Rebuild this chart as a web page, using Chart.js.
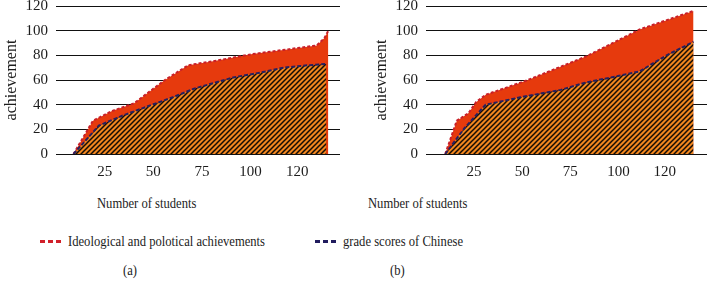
<!DOCTYPE html>
<html>
<head>
<meta charset="utf-8">
<script src="https://cdn.jsdelivr.net/npm/chart.js@4.4.1/dist/chart.umd.min.js"></script>
<style>
  html, body { margin: 0; padding: 0; background: #fff; }
  #wrap { position: relative; width: 707px; height: 283px; overflow: hidden;
          font-family: 'Liberation Serif', 'DejaVu Serif', serif; color: #1c1c1c; }
  .panel { position: absolute; top: 0; height: 190px; }
  #panelA { left: 0; width: 353px; }
  #panelB { left: 353px; width: 354px; }
  .txt { position: absolute; white-space: nowrap; font-size: 15px; line-height: 18px;
         transform: scaleX(0.84); transform-origin: 0 50%; }
  .key { position: absolute; height: 3px; width: 22px;
         background: repeating-linear-gradient(90deg, var(--c) 0 5px, transparent 5px 8px); }
</style>
</head>
<body>
<div id="wrap">
  <div class="panel" id="panelA"><canvas id="chartA"></canvas></div>
  <div class="panel" id="panelB"><canvas id="chartB"></canvas></div>

  <div class="txt" style="left:97px; top:194px;">Number of students</div>
  <div class="txt" style="left:368px; top:194px;">Number of students</div>

  <div class="key" style="--c:#d1202a; left:40px; top:240px;"></div>
  <div class="txt" style="left:68px; top:232px;">Ideological and polotical achievements</div>
  <div class="key" style="--c:#211c5e; left:315px; top:240px;"></div>
  <div class="txt" style="left:343px; top:232px;">grade scores of Chinese</div>

  <div class="txt" style="left:123px; top:261px;">(a)</div>
  <div class="txt" style="left:390px; top:261px;">(b)</div>
</div>
<script>
// Panel (a): number of students vs. achievement
const politicsA_x = [9, 19, 29, 40, 56, 68, 80, 101, 120, 134, 138, 140];
const politicsA_y = [0, 27, 35, 41, 60, 72, 75, 81, 85, 88, 94, 100];
const chineseA_x = [9, 22, 34, 46, 60, 71, 91, 105, 117, 130, 139];
const chineseA_y = [0, 23, 31, 38, 46, 53, 62, 66, 70, 72, 73];

// Panel (b)
const politicsB_x = [10, 16, 22, 26, 31, 53, 83, 111, 139];
const politicsB_y = [0, 27, 33, 42, 48, 60, 79, 101, 116];
const chineseB_x = [10, 20, 31, 49, 70, 83, 96, 111, 125, 139];
const chineseB_y = [0, 21, 40, 46, 52, 58, 62, 67, 80, 91];

const xTickValues = [25, 50, 75, 100, 124];
const xTickLabels = ['25', '50', '75', '100', '120'];
const yTicks = [0, 20, 40, 60, 80, 100, 120];

const RED_FILL = '#e63a0d';
const RED_LINE = '#c8202a';
const NAVY_LINE = '#262060';
const ORANGE = '#f0861f';
const FONT = "'Liberation Serif', 'DejaVu Serif', serif";

// orange with black diagonal hatching
function makeHatch() {
  const s = 5;
  const c = document.createElement('canvas');
  c.width = s; c.height = s;
  const g = c.getContext('2d');
  g.fillStyle = ORANGE;
  g.fillRect(0, 0, s, s);
  g.strokeStyle = '#140c04';
  g.lineWidth = 1.5;
  g.beginPath();
  g.moveTo(0, s); g.lineTo(s, 0);
  g.moveTo(-1, 1); g.lineTo(1, -1);
  g.moveTo(s - 1, s + 1); g.lineTo(s + 1, s - 1);
  g.stroke();
  return g.createPattern(c, 'repeat');
}

function pts(xs, ys) {
  return xs.map((x, i) => ({ x: x, y: ys[i] }));
}

function buildChart(canvasId, politics, chinese, padLeft, padRight) {
  const hatch = makeHatch();
  return new Chart(document.getElementById(canvasId), {
    type: 'line',
    data: {
      datasets: [
        {
          label: 'grade scores of Chinese',
          data: chinese,
          borderColor: NAVY_LINE,
          borderWidth: 2,
          borderDash: [4, 2],
          backgroundColor: hatch,
          fill: 'origin',
          pointRadius: 0,
          tension: 0,
        },
        {
          label: 'Ideological and polotical achievements',
          data: politics,
          borderColor: RED_LINE,
          borderWidth: 2,
          borderDash: [3, 2],
          backgroundColor: RED_FILL,
          fill: 'origin',
          pointRadius: 0,
          tension: 0,
        },
      ],
    },
    options: {
      responsive: true,
      maintainAspectRatio: false,
      animation: false,
      layout: { padding: { left: padLeft, right: padRight, top: 6, bottom: 9 } },
      plugins: {
        legend: { display: false },
        tooltip: { enabled: false },
      },
      scales: {
        x: {
          type: 'linear',
          min: 0,
          max: 146,
          afterBuildTicks: (axis) => {
            axis.ticks = xTickValues.map(v => ({ value: v }));
          },
          afterFit: (axis) => {
            axis.height = 27;
            axis.paddingLeft = 0;
            axis.paddingRight = 0;
          },
          ticks: {
            font: { family: FONT, size: 15 },
            color: '#1c1c1c',
            padding: 9,
            maxRotation: 0,
            callback: (value) => xTickLabels[xTickValues.indexOf(value)],
          },
          grid: { display: false, drawTicks: false },
          border: { display: false },
        },
        y: {
          min: 0,
          max: 120,
          afterBuildTicks: (axis) => {
            axis.ticks = yTicks.map(v => ({ value: v }));
          },
          afterFit: (axis) => {
            axis.width = 54;
            axis.paddingTop = 0;
            axis.paddingBottom = 0;
          },
          ticks: {
            font: { family: FONT, size: 15 },
            color: '#1c1c1c',
            padding: 8,
          },
          grid: { color: '#111', lineWidth: 1, drawTicks: false },
          border: { display: false },
          title: {
            display: true,
            text: 'achievement',
            font: { family: FONT, size: 16 },
            color: '#1c1c1c',
            padding: 0,
          },
        },
      },
    },
  });
}

buildChart('chartA', pts(politicsA_x, politicsA_y), pts(chineseA_x, chineseA_y), 2, 13);
buildChart('chartB', pts(politicsB_x, politicsB_y), pts(chineseB_x, chineseB_y), 19, 0);
</script>
</body>
</html>
